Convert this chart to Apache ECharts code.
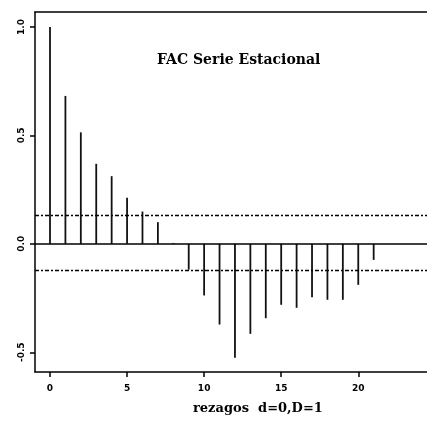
<!DOCTYPE html>
<html>
<head>
<meta charset="utf-8">
<script src="https://cdn.jsdelivr.net/npm/echarts@6/dist/echarts.min.js"></script>
<style>
  html, body { margin: 0; padding: 0; background: #fff; }
  #chart { width: 427px; height: 425px; }
</style>
</head>
<body>
<div id="chart"></div>
<script>
  // rezagos (lags) y valores de la FAC
  var lags = [0, 1, 2, 3, 4, 5, 6, 7, 8, 9, 10, 11, 12, 13, 14, 15, 16, 17, 18, 19, 20, 21];
  var acf = [1.0, 0.682, 0.514, 0.369, 0.312, 0.212, 0.149, 0.10, 0.004, -0.119, -0.238, -0.372,
             -0.525, -0.415, -0.343, -0.281, -0.295, -0.246, -0.258, -0.258, -0.189, -0.074];
  // bandas de confianza
  var bandUpper = 0.125;
  var bandLower = -0.122;
  // marcas de los ejes
  var xTicks = [0, 5, 10, 15, 20];
  var yTicks = [-0.5, 0, 0.5, 1.0];

  var stems = lags.map(function (l, i) { return [l, acf[i]]; });

  var tickFont = { fontFamily: 'DejaVu Sans', fontSize: 9, fontWeight: 'bold', color: '#000' };
  var dotdash = [4, 2, 2, 2];

  var chart = echarts.init(document.getElementById('chart'));
  chart.setOption({
    animation: false,
    grid: { left: 35, right: 0, top: 12, bottom: 53 },
    xAxis: [
      {
        type: 'value', min: -0.973, max: 24.46, position: 'bottom',
        splitLine: { show: false },
        axisLine: { show: true, onZero: false, lineStyle: { color: '#000', width: 1.5 } },
        axisTick: { show: true, length: 5, customValues: xTicks, lineStyle: { color: '#000', width: 1.5 } },
        axisLabel: Object.assign({ margin: 12, customValues: xTicks,
          formatter: function (v) { return String(v); } }, tickFont)
      },
      {
        type: 'value', min: -0.973, max: 24.46, position: 'top',
        splitLine: { show: false },
        axisLine: { show: true, onZero: false, lineStyle: { color: '#000', width: 1.5 } },
        axisTick: { show: false },
        axisLabel: { show: false }
      }
    ],
    yAxis: {
      type: 'value', min: -0.591, max: 1.069,
      splitLine: { show: false },
      axisLine: { show: true, onZero: false, lineStyle: { color: '#000', width: 1.5 } },
      axisTick: { show: true, length: 5, customValues: yTicks, lineStyle: { color: '#000', width: 1.5 } },
      axisLabel: Object.assign({ margin: 9, rotate: 90, customValues: yTicks,
        formatter: function (v) { return v.toFixed(1); } }, tickFont)
    },
    graphic: [
      {
        type: 'text', left: 157, top: 53,
        style: { text: 'FAC Serie Estacional', font: 'bold 14px "DejaVu Serif"', fill: '#000' }
      },
      {
        type: 'text', left: 193, top: 402,
        style: { text: 'rezagos  d=0,D=1', font: 'bold 13px "DejaVu Serif"', fill: '#000' }
      }
    ],
    series: [
      {
        type: 'custom',
        data: stems,
        renderItem: function (params, api) {
          var p0 = api.coord([api.value(0), 0]);
          var p1 = api.coord([api.value(0), api.value(1)]);
          return {
            type: 'line',
            shape: { x1: p0[0], y1: p0[1], x2: p1[0], y2: p1[1] },
            style: { stroke: '#111', lineWidth: 1.8 }
          };
        },
        markLine: {
          silent: true,
          symbol: 'none',
          label: { show: false },
          data: [
            { yAxis: 0, lineStyle: { type: 'solid', color: '#000', width: 1.5 } },
            { yAxis: bandUpper, lineStyle: { type: dotdash, color: '#000', width: 1.4 } },
            { yAxis: bandLower, lineStyle: { type: dotdash, color: '#000', width: 1.4 } }
          ]
        }
      }
    ]
  });
</script>
</body>
</html>
